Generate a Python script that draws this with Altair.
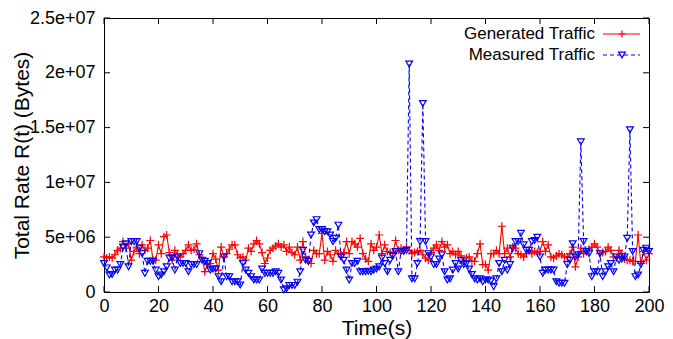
import altair as alt
import pandas as pd

# ---- data (values in millions of bytes, one sample per second) ----
generated = [3.2,3.1,3.2,3.1,3.4,3.8,4.0,4.6,4.0,4.4,
             2.9,3.7,4.1,3.5,4.3,3.8,4.0,4.7,2.9,2.9,
             4.3,3.5,5.05,5.2,3.6,2.9,3.8,3.4,3.2,3.5,
             3.8,4.3,3.8,3.9,4.4,3.4,3.1,1.85,2.5,2.6,
             3.5,3.0,2.0,4.1,3.2,3.5,3.9,4.3,4.3,3.4,
             3.1,3.2,2.9,4.0,3.7,4.4,4.7,4.4,3.6,2.6,
             3.1,3.8,4.0,4.2,4.4,4.1,4.3,3.7,4.1,3.6,
             3.4,4.1,2.9,4.6,3.2,2.8,2.6,3.8,3.5,3.5,
             5.35,2.9,3.7,3.4,2.8,3.8,3.5,3.4,3.6,4.6,
             3.5,4.6,4.4,4.1,4.9,3.5,3.0,2.8,4.4,3.8,
             4.1,5.2,3.5,4.3,3.7,3.6,3.5,4.7,3.8,4.0,
             3.8,4.1,3.8,3.5,3.6,3.7,3.8,3.4,3.1,2.9,
             3.6,4.0,4.3,3.8,4.6,4.1,4.3,3.5,3.7,3.4,
             3.7,3.3,2.8,3.1,3.2,2.8,2.8,3.5,4.4,2.5,
             2.5,2.0,3.5,3.5,3.8,3.5,6.0,3.5,4.0,3.2,
             4.1,4.0,3.5,3.4,3.2,3.5,3.8,3.5,3.7,3.6,
             3.7,4.6,3.7,4.3,3.2,3.1,3.3,3.5,3.4,3.2,
             3.2,3.5,4.1,2.3,3.2,4.0,3.5,3.7,3.9,4.1,
             4.4,4.1,3.5,3.6,3.7,4.1,3.8,3.2,3.1,3.8,
             3.5,3.0,2.9,2.9,2.8,2.8,5.2,2.6,3.7,2.9,
             3.5]

measured = [2.6,2.2,1.55,1.6,2.0,2.0,2.5,4.1,4.4,2.3,
            4.6,4.6,4.6,4.0,3.5,1.7,2.8,2.8,2.8,2.0,
            1.4,1.55,1.85,2.3,3.1,3.1,2.0,3.2,2.6,2.6,
            2.6,1.85,2.5,2.5,2.5,3.5,2.9,2.8,2.6,2.0,
            2.1,2.1,1.4,0.94,3.2,1.4,1.4,0.94,0.94,0.94,
            0.64,2.6,2.0,1.7,1.4,1.1,1.1,1.1,2.1,1.7,
            1.7,1.7,1.7,1.85,1.7,1.1,0.2,0.3,0.6,0.6,
            0.6,0.9,1.85,3.8,2.9,2.8,5.2,6.3,6.6,5.7,
            5.7,5.5,5.5,5.2,4.6,4.9,6.1,3.2,2.9,2.0,
            1.1,2.6,2.6,2.8,1.85,1.85,1.85,1.9,1.85,2.0,
            2.1,2.3,3.1,2.6,1.85,2.9,3.3,3.7,
            1.85,3.7,3.7,3.8,20.8,1.2,1.2,2.6,4.6,17.2,
            4.6,3.5,3.2,2.5,2.5,3.0,3.4,1.85,1.1,1.2,
            2.0,2.6,2.1,2.9,2.5,2.6,2.1,1.6,1.2,1.1,
            1.2,0.94,1.1,1.1,1.0,0.49,1.2,2.6,1.85,2.9,
            2.0,2.5,4.0,4.6,4.6,5.35,4.3,3.8,3.8,4.6,
            4.7,5.0,3.2,1.7,2.0,2.0,2.0,2.0,0.94,0.8,
            0.8,0.8,2.5,2.9,4.4,3.2,3.4,13.7,4.6,3.7,
            3.5,1.4,1.85,1.85,3.5,1.4,1.85,2.3,2.6,1.85,
            3.2,2.9,3.0,3.2,4.9,14.8,3.7,1.4,1.55,2.5,
            3.8,4.0,3.7]

times = list(range(len(generated)))

x_ticks = [0, 20, 40, 60, 80, 100, 120, 140, 160, 180, 200]
y_ticks = [0, 5e6, 1e7, 1.5e7, 2e7, 2.5e7]
y_tick_labels = ["0", "5e+06", "1e+07", "1.5e+07", "2e+07", "2.5e+07"]

series_names = ["Generated Traffic", "Measured Traffic"]

W, H = 545, 274
FONT = "Liberation Sans"

gen_df = pd.DataFrame({"time": times, "rate": [v * 1e6 for v in generated]})
mea_df = pd.DataFrame({"time": times, "rate": [v * 1e6 for v in measured]})

label_expr = " : ".join(
    f"datum.value == {v} ? '{l}'" for v, l in zip(y_ticks, y_tick_labels)
) + " : ''"

xs = alt.Scale(domain=[0, 200], nice=False, zero=False, padding=0)
ys = alt.Scale(domain=[0, 2.5e7], nice=False, padding=0)

x_axis = alt.Axis(values=x_ticks, ticks=False, tickSize=0, domain=False, grid=False,
                  labelFlush=False, labelOverlap=False,
                  labelFontSize=18, labelPadding=5, labelColor="#000", labelFont=FONT,
                  title="Time(s)", titleFontSize=21, titleFont=FONT, titleFontWeight="normal",
                  titleColor="#000", titleY=36, titleBaseline="middle")
y_axis = alt.Axis(values=y_ticks, ticks=False, tickSize=0, domain=False, grid=False,
                  labelFlush=False, labelOverlap=False,
                  labelFontSize=18, labelPadding=9, labelColor="#000", labelFont=FONT,
                  labelExpr=label_expr,
                  title="Total Rate R(t) (Bytes)", titleFontSize=21, titleFont=FONT,
                  titleFontWeight="normal", titleColor="#000",
                  titleX=-82, titleY=H / 2, titleAngle=-90, titleBaseline="middle",
                  titleAlign="center")

base_gen = alt.Chart(gen_df)
base_mea = alt.Chart(mea_df)

gen_line = base_gen.mark_line(color="#ff0000", strokeWidth=1.1).encode(
    x=alt.X("time:Q", scale=xs, axis=x_axis),
    y=alt.Y("rate:Q", scale=ys, axis=y_axis),
)
plus_path = "M-1,0L1,0M0,-1L0,1"
gen_pts = base_gen.mark_point(shape=plus_path, size=64, filled=False,
                              color="#ff0000", strokeWidth=1.2, opacity=1).encode(
    x=alt.X("time:Q", scale=xs), y=alt.Y("rate:Q", scale=ys))

mea_line = base_mea.mark_line(color="#0000ff", strokeWidth=1.1, strokeDash=[4, 3]).encode(
    x=alt.X("time:Q", scale=xs), y=alt.Y("rate:Q", scale=ys))
mea_pts = base_mea.mark_point(shape="triangle-down", size=45, filled=False,
                              color="#0000ff", strokeWidth=1.2, opacity=1).encode(
    x=alt.X("time:Q", scale=xs), y=alt.Y("rate:Q", scale=ys))

# inward tick marks (mirrored on all four sides)
xt_df = pd.DataFrame({"time": x_ticks})
yt_df = pd.DataFrame({"rate": y_ticks})
TL = 6
tick_b = alt.Chart(xt_df).mark_rule(color="#000", strokeWidth=1).encode(
    x=alt.X("time:Q", scale=xs), y=alt.value(H), y2=alt.value(H - TL))
tick_t = alt.Chart(xt_df).mark_rule(color="#000", strokeWidth=1).encode(
    x=alt.X("time:Q", scale=xs), y=alt.value(0), y2=alt.value(TL))
tick_l = alt.Chart(yt_df).mark_rule(color="#000", strokeWidth=1).encode(
    y=alt.Y("rate:Q", scale=ys), x=alt.value(0), x2=alt.value(TL))
tick_r = alt.Chart(yt_df).mark_rule(color="#000", strokeWidth=1).encode(
    y=alt.Y("rate:Q", scale=ys), x=alt.value(W), x2=alt.value(W - TL))

# legend (top right, inside the frame)
leg1 = pd.DataFrame({"label": [series_names[0]]})
leg2 = pd.DataFrame({"label": [series_names[1]]})
LX_TEXT, LX0, LX1, LXM = 491, 499, 536, 518
LY1, LY2 = 16, 37
leg_t1 = alt.Chart(leg1).mark_text(align="right", baseline="middle", fontSize=17,
                                   font=FONT, color="#000").encode(
    text="label:N", x=alt.value(LX_TEXT), y=alt.value(LY1))
leg_l1 = alt.Chart(leg1).mark_rule(color="#ff0000", strokeWidth=1.1).encode(
    x=alt.value(LX0), x2=alt.value(LX1), y=alt.value(LY1))
leg_p1 = alt.Chart(leg1).mark_point(shape=plus_path, size=49, filled=False,
                                    color="#ff0000", strokeWidth=1.2, opacity=1).encode(
    x=alt.value(LXM), y=alt.value(LY1))
leg_t2 = alt.Chart(leg2).mark_text(align="right", baseline="middle", fontSize=17,
                                   font=FONT, color="#000").encode(
    text="label:N", x=alt.value(LX_TEXT), y=alt.value(LY2))
leg_l2 = alt.Chart(leg2).mark_rule(color="#0000ff", strokeWidth=1.1, strokeDash=[4, 3]).encode(
    x=alt.value(LX0), x2=alt.value(LX1), y=alt.value(LY2))
leg_p2 = alt.Chart(leg2).mark_point(shape="triangle-down", size=45, filled=False,
                                    color="#0000ff", strokeWidth=1.2, opacity=1).encode(
    x=alt.value(LXM), y=alt.value(LY2))

chart = alt.layer(
    gen_line, gen_pts, mea_line, mea_pts,
    tick_b, tick_t, tick_l, tick_r,
    leg_t1, leg_l1, leg_p1, leg_t2, leg_l2, leg_p2,
).properties(
    width=W, height=H,
    autosize=alt.AutoSizeParams(type="none"),
    padding={"left": 96, "top": 10, "right": 16, "bottom": 47},
    background="white",
).configure_view(
    stroke="#000", strokeWidth=1
)

chart.save("out.html", embed_options={"renderer": "svg", "actions": False})
